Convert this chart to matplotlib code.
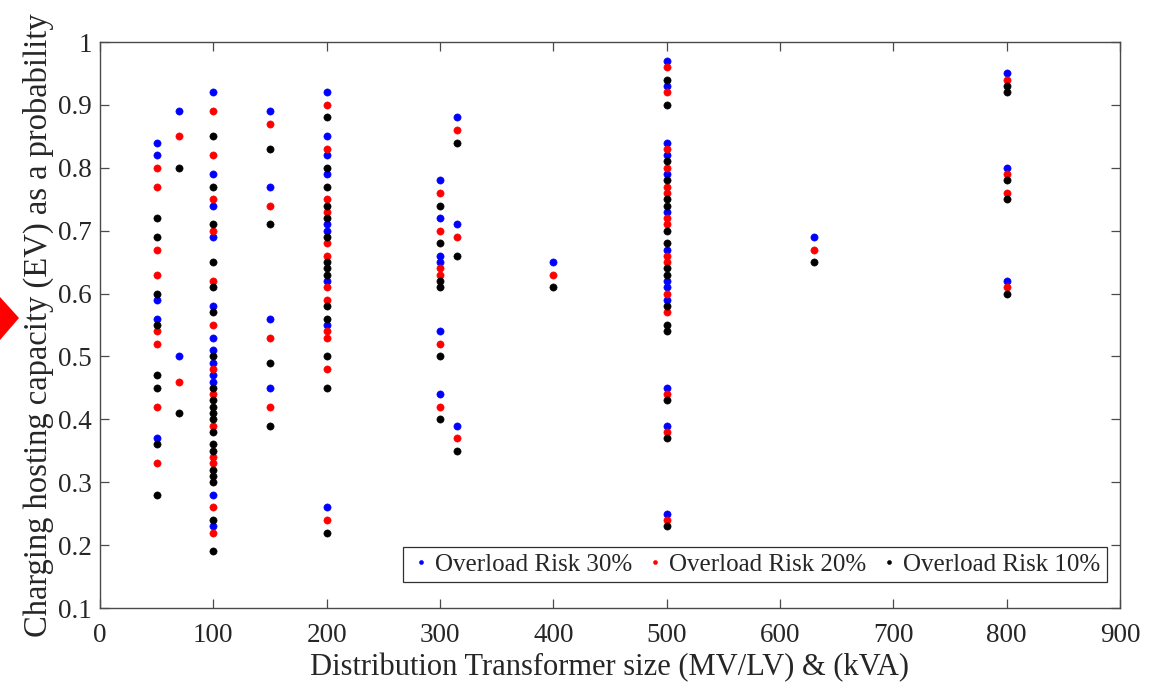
import matplotlib
matplotlib.use("Agg")
import matplotlib.pyplot as plt
from matplotlib.patches import Polygon

plt.rcParams['font.family'] = ['Liberation Serif', 'DejaVu Serif']
plt.rcParams['mathtext.fontset'] = 'stix'

# ---- data: transformer size (kVA) -> hosting capacity values per risk level ----
sizes = [50, 70, 100, 150, 200, 300, 315, 400, 500, 630, 800]

risk30 = {
    50: [0.84, 0.82, 0.59, 0.56, 0.37],
    70: [0.89, 0.50],
    100: [0.92, 0.79, 0.74, 0.69, 0.58, 0.53, 0.51, 0.49, 0.47, 0.46, 0.28, 0.23],
    150: [0.89, 0.77, 0.56, 0.45],
    200: [0.92, 0.85, 0.82, 0.79, 0.71, 0.70, 0.62, 0.55, 0.26],
    300: [0.78, 0.72, 0.66, 0.65, 0.54, 0.44],
    315: [0.88, 0.71, 0.39],
    400: [0.65],
    500: [0.97, 0.93, 0.84, 0.82, 0.79, 0.73, 0.67, 0.62, 0.61, 0.59, 0.45, 0.39, 0.25],
    630: [0.69],
    800: [0.95, 0.80, 0.62],
}
risk20 = {
    50: [0.80, 0.77, 0.67, 0.63, 0.54, 0.52, 0.42, 0.33],
    70: [0.85, 0.46],
    100: [0.89, 0.82, 0.75, 0.70, 0.62, 0.55, 0.48, 0.44, 0.39, 0.34, 0.33, 0.26, 0.22],
    150: [0.87, 0.74, 0.53, 0.42],
    200: [0.90, 0.83, 0.75, 0.73, 0.68, 0.66, 0.61, 0.59, 0.54, 0.53, 0.48, 0.24],
    300: [0.76, 0.70, 0.64, 0.63, 0.52, 0.42],
    315: [0.86, 0.69, 0.37],
    400: [0.63],
    500: [0.96, 0.92, 0.83, 0.80, 0.77, 0.76, 0.72, 0.71, 0.66, 0.65, 0.60, 0.57, 0.44, 0.38, 0.24],
    630: [0.67],
    800: [0.94, 0.79, 0.76, 0.61],
}
risk10 = {
    50: [0.72, 0.69, 0.60, 0.55, 0.47, 0.45, 0.36, 0.28],
    70: [0.80, 0.41],
    100: [0.85, 0.77, 0.71, 0.65, 0.61, 0.57, 0.50, 0.45, 0.43, 0.42, 0.41, 0.40,
          0.38, 0.36, 0.35, 0.32, 0.31, 0.30, 0.24, 0.19],
    150: [0.83, 0.71, 0.49, 0.39],
    200: [0.88, 0.80, 0.77, 0.74, 0.72, 0.69, 0.65, 0.64, 0.63, 0.58, 0.56, 0.50, 0.45, 0.22],
    300: [0.74, 0.68, 0.62, 0.61, 0.50, 0.40],
    315: [0.84, 0.66, 0.35],
    400: [0.61],
    500: [0.94, 0.90, 0.81, 0.78, 0.75, 0.74, 0.70, 0.68, 0.64, 0.63, 0.58, 0.55, 0.54,
          0.43, 0.37, 0.23],
    630: [0.65],
    800: [0.93, 0.92, 0.78, 0.75, 0.60],
}

series_labels = ['Overload Risk 30%', 'Overload Risk 20%', 'Overload Risk 10%']
series_colors = ['#0000ff', '#ff0000', '#000000']

x_ticks = [0, 100, 200, 300, 400, 500, 600, 700, 800, 900]
y_ticks = [0.1, 0.2, 0.3, 0.4, 0.5, 0.6, 0.7, 0.8, 0.9, 1.0]
y_ticklabels = ['0.1', '0.2', '0.3', '0.4', '0.5', '0.6', '0.7', '0.8', '0.9', '1']

x_label = 'Distribution Transformer size (MV/LV) & (kVA)'
y_label = 'Charging hosting capacity (EV) as a probability'


def flatten(d):
    xs, ys = [], []
    for s in sizes:
        for v in d.get(s, []):
            xs.append(s)
            ys.append(v)
    return xs, ys


fig = plt.figure(figsize=(11.68, 6.88), dpi=100)
ax = fig.add_axes([100 / 1168, (688 - 608) / 688, 1020 / 1168, 566 / 688])

frame_col = '#4a4a4a'
text_col = '#262626'

for d, lab, col in zip([risk30, risk20, risk10], series_labels, series_colors):
    xs, ys = flatten(d)
    ax.plot(xs, ys, linestyle='none', marker='o', markersize=5.2,
            markerfacecolor=col, markeredgecolor=col, markeredgewidth=0.4,
            label=lab)

ax.set_xlim(0, 900)
ax.set_ylim(0.1, 1.0)
ax.set_xticks(x_ticks)
ax.set_xticklabels([str(t) for t in x_ticks])
ax.set_yticks(y_ticks)
ax.set_yticklabels(y_ticklabels)

ax.tick_params(direction='in', length=6.5, width=0.9, colors=frame_col,
               labelcolor=text_col, labelsize=19.5, top=True, right=True)
ax.tick_params(axis='x', pad=11)
ax.tick_params(axis='y', pad=6)
for sp in ax.spines.values():
    sp.set_color(frame_col)
    sp.set_linewidth(1.0)

ax.set_xlabel(x_label, fontsize=22, color=text_col, labelpad=3)
ax.set_ylabel(y_label, fontsize=23.5, color=text_col, labelpad=3)

leg = ax.legend(loc='lower right', bbox_to_anchor=(0.987, 0.046), ncol=3,
                fontsize=18, markerscale=0.55, handlelength=1.0,
                handletextpad=0.05, columnspacing=0.42, borderpad=0.25,
                fancybox=False, framealpha=1, edgecolor='#303030',
                borderaxespad=0)
leg.get_frame().set_linewidth(0.9)
for t in leg.get_texts():
    t.set_color(text_col)

# red pointer marker at the left edge of the picture
tri = Polygon([(0 / 1168, 1 - 297 / 688), (19 / 1168, 1 - 318 / 688),
               (0 / 1168, 1 - 340 / 688)], closed=True, transform=fig.transFigure,
              facecolor='#ff0000', edgecolor='none')
fig.patches.append(tri)

fig.savefig('out.png', dpi=100)
